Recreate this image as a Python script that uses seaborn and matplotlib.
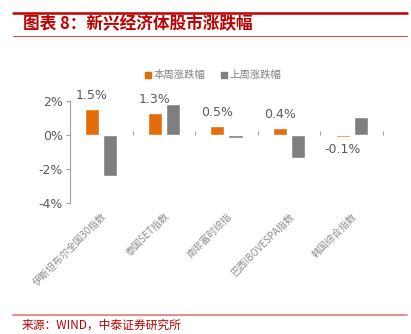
import matplotlib
matplotlib.use("Agg")
import matplotlib.pyplot as plt
from matplotlib.lines import Line2D
import seaborn as sns
import pandas as pd

categories = ["伊斯坦布尔全国30指数", "泰国SET指数", "南非富时综指", "巴西IBOVESPA指数", "韩国综合指数"]
this_week = [1.5, 1.3, 0.5, 0.4, -0.1]
last_week = [-2.4, 1.8, -0.2, -1.35, 1.05]
series_names = ["本周涨跌幅", "上周涨跌幅"]
this_week_labels = ["1.5%", "1.3%", "0.5%", "0.4%", "-0.1%"]
yticks = [-4, -2, 0, 2]
ytick_labels = ["-4%", "-2%", "0%", "2%"]

df = pd.DataFrame({
    "cat": categories * 2,
    "series": [series_names[0]] * len(categories) + [series_names[1]] * len(categories),
    "value": this_week + last_week,
})

sns.set_theme(style="white")
plt.rcParams["font.family"] = ["Noto Sans CJK SC", "DejaVu Sans"]

colors = ["#E46C0A", "#7F7F7F"]
grey_text = "#595959"
red = "#C00000"

fig = plt.figure(figsize=(4.11, 3.34), dpi=100)
ax = fig.add_axes([0.170, 0.393, 0.762, 0.305])

sns.barplot(data=df, x="cat", y="value", hue="series", hue_order=series_names,
            palette=colors, width=0.58, gap=0.22, ax=ax, legend=False,
            saturation=1)

ax.set_ylim(yticks[0], yticks[-1])
ax.set_xlim(-0.5, len(categories) - 0.5)
ax.set_yticks(yticks)
ax.set_yticklabels(ytick_labels, fontsize=9, color=grey_text, family="DejaVu Sans")
ax.tick_params(axis="y", direction="out", length=3, width=0.8, color="#A0A0A0", left=True, pad=2)
ax.set_xlabel("")
ax.set_ylabel("")

for s in ["top", "right", "bottom"]:
    ax.spines[s].set_visible(False)
ax.spines["left"].set_color("#A0A0A0")
ax.spines["left"].set_linewidth(0.8)

# category labels at bottom
ax.set_xticks(range(len(categories)))
ax.set_xticklabels(categories, rotation=45, ha="right", rotation_mode="anchor",
                   fontsize=7, color="#8C8C8C")
ax.tick_params(axis="x", length=0, pad=6)

# zero line axis with boundary ticks
zero_frac = (0 - yticks[0]) / (yticks[-1] - yticks[0])
sec = ax.secondary_xaxis(zero_frac)
sec.set_xticks([i + 0.5 for i in range(len(categories))])
sec.set_xticklabels([])
sec.tick_params(axis="x", direction="out", length=3, width=0.8, color="#A0A0A0")
sec.spines["bottom"].set_color("#A0A0A0")
sec.spines["bottom"].set_linewidth(0.8)
for s in ["top", "left", "right"]:
    sec.spines[s].set_visible(False)

# data labels for this week
cont = ax.containers[0]
ax.bar_label(cont, labels=this_week_labels, padding=5, fontsize=9, color=grey_text,
             family="DejaVu Sans")

# legend
handles = [Line2D([], [], marker="s", linestyle="", color=c, markersize=5) for c in colors]
fig.legend(handles, series_names, loc="center", bbox_to_anchor=(0.516, 0.775), ncol=2,
           frameon=False, fontsize=7.5, labelcolor="#808080", handletextpad=0.1,
           columnspacing=1.2, handlelength=1.0)

# title and decorations
fig.add_artist(Line2D([13 / 411, 407 / 411], [1 - 12.5 / 334] * 2, color=red, lw=1.8))
fig.add_artist(Line2D([13 / 411, 407 / 411], [1 - 36 / 334] * 2, color="#D9534F", lw=0.8))
fig.text(23 / 411, 1 - 24.5 / 334, "图表 8：新兴经济体股市涨跌幅", color=red, fontsize=12,
         fontweight="bold", va="center", ha="left", style="italic")
fig.add_artist(Line2D([13 / 411, 407 / 411], [1 - 315 / 334] * 2, color="#E07A7A", lw=1.2))
fig.text(22 / 411, 1 - 325 / 334, "来源：WIND，中泰证券研究所", color=red, fontsize=8.5,
         va="center", ha="left")

fig.savefig("out.png", dpi=100)
